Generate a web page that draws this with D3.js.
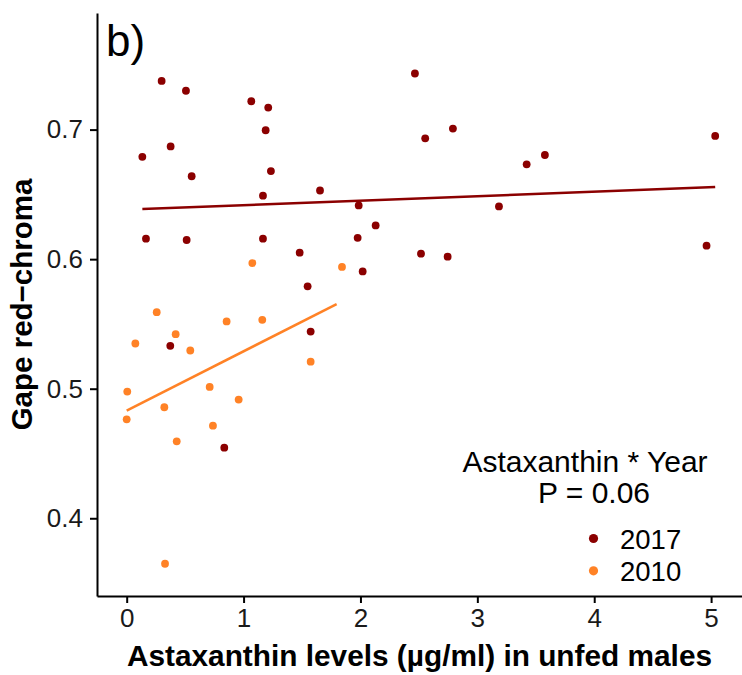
<!DOCTYPE html>
<html>
<head>
<meta charset="utf-8">
<script src="https://cdn.jsdelivr.net/npm/d3@7"></script>
<style>
  html, body { margin: 0; padding: 0; background: #fff; }
  svg { display: block; font-family: "Liberation Sans", Arial, sans-serif; }
</style>
</head>
<body>
<svg id="chart" width="742" height="675"></svg>
<script>
// Astaxanthin (µg/ml) and gape red-chroma, unfed males, by sampling year
const astax2017 = [0.299, 0.507, 1.066, 1.211, 1.189, 0.134, 0.376, 0.556, 1.234, 1.166,
                   1.654, 1.985, 2.130, 0.165, 0.513, 1.166, 1.976, 1.480, 2.019, 1.548,
                   1.574, 0.373, 0.835, 2.466, 2.554, 2.791, 3.422, 3.578, 5.035, 3.185,
                   2.518, 2.746, 4.961];
const chroma2017 = [0.7376, 0.7300, 0.7219, 0.7170, 0.6995, 0.6790, 0.6870, 0.6640, 0.6680, 0.6490,
                    0.6530, 0.6415, 0.6260, 0.6158, 0.6148, 0.6158, 0.6165, 0.6050, 0.5905, 0.5790,
                    0.5441, 0.5331, 0.4545, 0.7433, 0.6933, 0.7008, 0.6732, 0.6804, 0.6951, 0.6407,
                    0.6042, 0.6019, 0.6104];
const astax2010 = [1.075, 1.842, 0.257, 0.855, 1.160, 0.419, 0.074, 0.544, 1.574, 0.710,
                   0.005, 0.958, 0.322, 0.000, 0.738, 0.428, 0.328];
const chroma2010 = [0.5970, 0.5940, 0.5591, 0.5519, 0.5532, 0.5421, 0.5349, 0.5295, 0.5209, 0.5014,
                    0.4978, 0.4916, 0.4857, 0.4764, 0.4715, 0.4594, 0.3649];

// Fitted linear trends (end points over each year's range)
const fit2017X = [0.134, 5.035];
const fit2017Y = [0.6387, 0.6557];
const fit2010X = [0.000, 1.796];
const fit2010Y = [0.4831, 0.5653];

const xTicks = [0, 1, 2, 3, 4, 5];
const yTicks = [0.4, 0.5, 0.6, 0.7];
const years = ["2017", "2010"];
const yearColors = ["#8b0000", "#ff8226"];

const svg = d3.select("#chart");
const plotLeft = 97, plotRight = 745, plotTop = 13, plotBottom = 596;

const x = d3.scaleLinear().domain([-0.254, 5.29]).range([plotLeft, plotRight]);
const y = d3.scaleLinear().domain([0.34, 0.79]).range([plotBottom, plotTop]);

// axes
const xAxis = svg.append("g")
  .attr("transform", `translate(0,${plotBottom})`)
  .call(d3.axisBottom(x).tickValues(xTicks).tickFormat(d3.format("d"))
        .tickSize(7).tickSizeOuter(0).tickPadding(6));
const yAxis = svg.append("g")
  .attr("transform", `translate(${plotLeft},0)`)
  .call(d3.axisLeft(y).tickValues(yTicks).tickFormat(d3.format(".1f"))
        .tickSize(7).tickSizeOuter(0).tickPadding(7));

[xAxis, yAxis].forEach(g => {
  g.select(".domain").attr("stroke", "#000").attr("stroke-width", 2);
  g.selectAll(".tick line").attr("stroke", "#000").attr("stroke-width", 2);
  g.selectAll(".tick text").attr("fill", "#1a1a1a")
    .style("font-size", "26px").style("font-family", "'Liberation Sans', Arial, sans-serif");
});

// axis titles
svg.append("text")
  .attr("x", (plotLeft + 742) / 2).attr("y", 666)
  .attr("text-anchor", "middle")
  .style("font-size", "29.8px").style("font-weight", "bold")
  .text("Astaxanthin levels (\u00b5g/ml) in unfed males");

svg.append("text")
  .attr("transform", `translate(32,${(plotTop + plotBottom) / 2}) rotate(-90)`)
  .attr("text-anchor", "middle")
  .style("font-size", "29.5px").style("font-weight", "bold")
  .text("Gape red\u2212chroma");

// panel tag
svg.append("text")
  .attr("x", 106).attr("y", 56)
  .style("font-size", "44px")
  .text("b)");

// trend lines
const fits = [
  { xs: fit2017X, ys: fit2017Y, color: yearColors[0] },
  { xs: fit2010X, ys: fit2010Y, color: yearColors[1] }
];
const line = d3.line().x(d => x(d[0])).y(d => y(d[1]));
fits.forEach(f => {
  svg.append("path")
    .datum(d3.zip(f.xs, f.ys))
    .attr("d", line)
    .attr("fill", "none")
    .attr("stroke", f.color)
    .attr("stroke-width", 2.5);
});

// points
const series = [
  { xs: astax2017, ys: chroma2017, color: yearColors[0] },
  { xs: astax2010, ys: chroma2010, color: yearColors[1] }
];
series.forEach(s => {
  svg.append("g").selectAll("circle")
    .data(d3.zip(s.xs, s.ys))
    .join("circle")
    .attr("cx", d => x(d[0]))
    .attr("cy", d => y(d[1]))
    .attr("r", 3.9)
    .attr("fill", s.color);
});

// annotation
svg.append("text")
  .attr("x", 585).attr("y", 472)
  .attr("text-anchor", "middle")
  .style("font-size", "30px")
  .text("Astaxanthin * Year");
svg.append("text")
  .attr("x", 594).attr("y", 503)
  .attr("text-anchor", "middle")
  .style("font-size", "30px")
  .text("P = 0.06");

// legend
const legend = svg.append("g");
years.forEach((yr, i) => {
  const cy = 538.5 + i * 32.3;
  legend.append("circle")
    .attr("cx", 593.5).attr("cy", cy).attr("r", 4.6)
    .attr("fill", yearColors[i]);
  legend.append("text")
    .attr("x", 620).attr("y", cy + 10)
    .style("font-size", "27.5px")
    .text(yr);
});
</script>
</body>
</html>
